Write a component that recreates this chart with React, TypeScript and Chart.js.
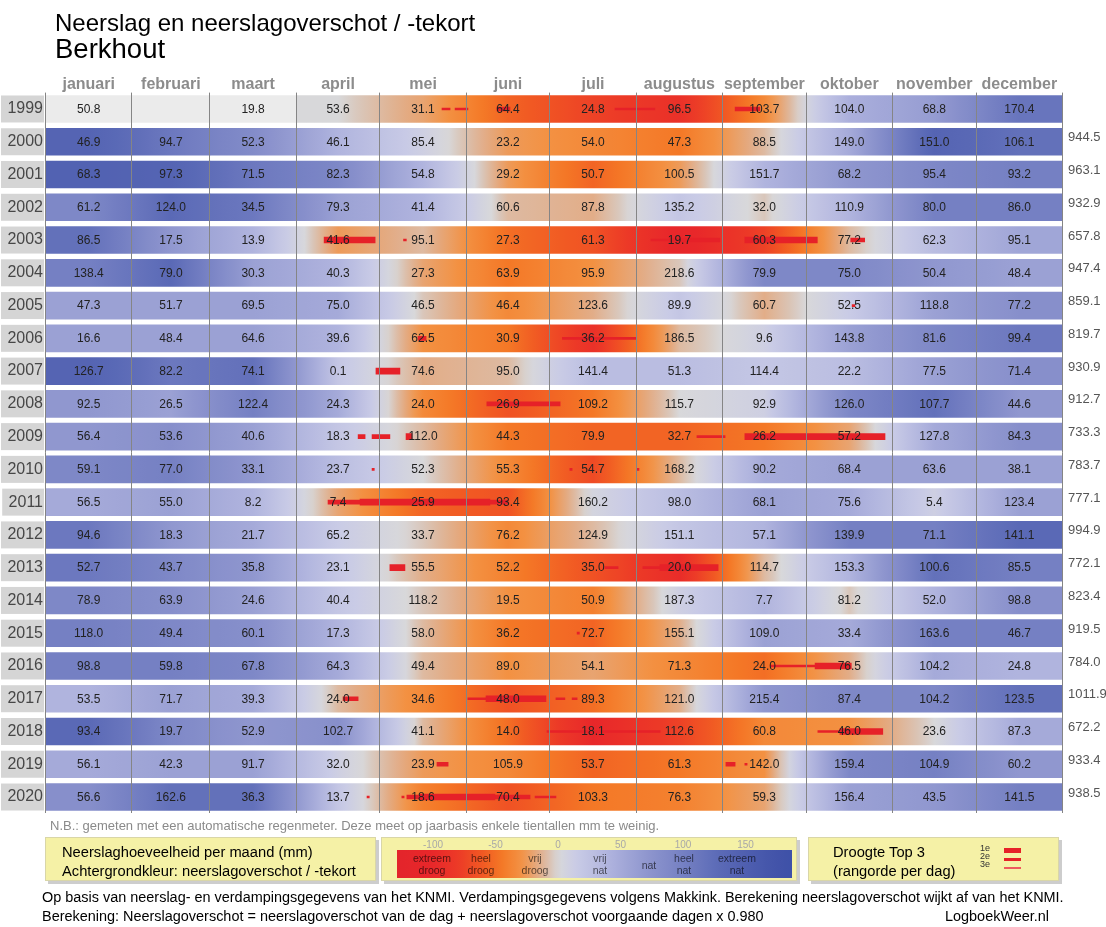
import React, { useEffect, useRef } from 'react';
import { Chart, registerables } from 'chart.js';

Chart.register(...registerables);

const FONT = '"Liberation Sans", Arial, Helvetica, sans-serif';

// ---------- data ----------
const years = ['1999', '2000', '2001', '2002', '2003', '2004', '2005', '2006', '2007', '2008', '2009',
  '2010', '2011', '2012', '2013', '2014', '2015', '2016', '2017', '2018', '2019', '2020'];

const monthNames = ['januari', 'februari', 'maart', 'april', 'mei', 'juni', 'juli', 'augustus',
  'september', 'oktober', 'november', 'december'];

const monthDays = [31, 28, 31, 30, 31, 30, 31, 31, 30, 31, 30, 31];

// precipitation per month (mm)
const monthlyRain: (number | null)[][] = [
  [50.8, null, 19.8, 53.6, 31.1, 64.4, 24.8, 96.5, 103.7, 104.0, 68.8, 170.4],
  [46.9, 94.7, 52.3, 46.1, 85.4, 23.2, 54.0, 47.3, 88.5, 149.0, 151.0, 106.1],
  [68.3, 97.3, 71.5, 82.3, 54.8, 29.2, 50.7, 100.5, 151.7, 68.2, 95.4, 93.2],
  [61.2, 124.0, 34.5, 79.3, 41.4, 60.6, 87.8, 135.2, 32.0, 110.9, 80.0, 86.0],
  [86.5, 17.5, 13.9, 41.6, 95.1, 27.3, 61.3, 19.7, 60.3, 77.2, 62.3, 95.1],
  [138.4, 79.0, 30.3, 40.3, 27.3, 63.9, 95.9, 218.6, 79.9, 75.0, 50.4, 48.4],
  [47.3, 51.7, 69.5, 75.0, 46.5, 46.4, 123.6, 89.9, 60.7, 52.5, 118.8, 77.2],
  [16.6, 48.4, 64.6, 39.6, 62.5, 30.9, 36.2, 186.5, 9.6, 143.8, 81.6, 99.4],
  [126.7, 82.2, 74.1, 0.1, 74.6, 95.0, 141.4, 51.3, 114.4, 22.2, 77.5, 71.4],
  [92.5, 26.5, 122.4, 24.3, 24.0, 26.9, 109.2, 115.7, 92.9, 126.0, 107.7, 44.6],
  [56.4, 53.6, 40.6, 18.3, 112.0, 44.3, 79.9, 32.7, 26.2, 57.2, 127.8, 84.3],
  [59.1, 77.0, 33.1, 23.7, 52.3, 55.3, 54.7, 168.2, 90.2, 68.4, 63.6, 38.1],
  [56.5, 55.0, 8.2, 7.4, 25.9, 93.4, 160.2, 98.0, 68.1, 75.6, 5.4, 123.4],
  [94.6, 18.3, 21.7, 65.2, 33.7, 76.2, 124.9, 151.1, 57.1, 139.9, 71.1, 141.1],
  [52.7, 43.7, 35.8, 23.1, 55.5, 52.2, 35.0, 20.0, 114.7, 153.3, 100.6, 85.5],
  [78.9, 63.9, 24.6, 40.4, 118.2, 19.5, 50.9, 187.3, 7.7, 81.2, 52.0, 98.8],
  [118.0, 49.4, 60.1, 17.3, 58.0, 36.2, 72.7, 155.1, 109.0, 33.4, 163.6, 46.7],
  [98.8, 59.8, 67.8, 64.3, 49.4, 89.0, 54.1, 71.3, 24.0, 76.5, 104.2, 24.8],
  [53.5, 71.7, 39.3, 24.0, 34.6, 48.0, 89.3, 121.0, 215.4, 87.4, 104.2, 123.5],
  [93.4, 19.7, 52.9, 102.7, 41.1, 14.0, 18.1, 112.6, 60.8, 46.0, 23.6, 87.3],
  [56.1, 42.3, 91.7, 32.0, 23.9, 105.9, 53.7, 61.3, 142.0, 159.4, 104.9, 60.2],
  [56.6, 162.6, 36.3, 13.7, 18.6, 70.4, 103.3, 76.3, 59.3, 156.4, 43.5, 141.5],
];

// estimated precipitation surplus (+) / deficit (-) per month (mm), drives the background colour
const monthlySurplus: (number | null)[][] = [
  [null, null, null, 0, -20, -55, -75, -90, -35, 45, 65, 115],
  [140, 110, 85, 40, 10, -25, -35, -45, -10, 50, 140, 120],
  [145, 140, 110, 90, 40, -25, -55, -25, 40, 70, 90, 100],
  [90, 130, 110, 60, 40, -10, -15, 20, -5, 40, 100, 100],
  [120, 70, 40, -25, -10, -50, -65, -105, -75, -10, 30, 55],
  [100, 130, 60, 40, -20, -45, -30, -5, 90, 90, 70, 60],
  [60, 60, 60, 50, -5, -35, -15, 20, -15, 15, 60, 80],
  [60, 60, 60, 40, -30, -45, -90, -10, 10, 60, 90, 110],
  [140, 110, 120, 20, -15, -10, 30, 30, 20, 30, 60, 80],
  [70, 60, 100, 50, -35, -65, -45, 0, 10, 90, 120, 70],
  [70, 80, 60, 20, -10, -45, -55, -55, -45, -20, 50, 80],
  [90, 100, 70, 30, 0, -35, -70, -10, 50, 60, 60, 60],
  [50, 60, 40, -20, -55, -65, 5, 30, 60, 50, 10, 60],
  [110, 70, 50, 15, -5, -35, -10, 20, 40, 100, 100, 130],
  [110, 90, 70, 20, -15, -40, -65, -95, -10, 40, 120, 100],
  [90, 80, 60, 20, -5, -30, -40, 10, 40, -5, 40, 80],
  [100, 90, 80, 40, -10, -45, -55, -15, 60, 50, 100, 100],
  [100, 100, 90, 50, -10, -30, -20, -35, -50, -15, 50, 40],
  [40, 60, 50, -10, -35, -65, -50, -15, 70, 90, 90, 120],
  [130, 90, 70, 80, -10, -50, -100, -75, -35, -30, 0, 50],
  [50, 60, 60, 10, -25, -35, -55, -45, -30, 90, 100, 70],
  [80, 120, 120, 20, -40, -65, -45, -40, -20, 60, 70, 100],
];

const yearTotals: (number | null)[] = [null, 944.5, 963.1, 932.9, 657.8, 947.4, 859.1, 819.7, 930.9,
  912.7, 733.3, 783.7, 777.1, 994.9, 772.1, 823.4, 919.5, 784.0, 1011.9, 672.2, 933.4, 938.5];

// drought top 3 periods (day of year) with rank
const droughtYears = ['1999', '1999', '1999', '1999', '1999',
  '2003', '2003', '2003', '2003', '2003', '2003', '2005', '2006', '2006', '2007', '2008',
  '2009', '2009', '2009', '2009', '2009', '2010', '2010', '2010', '2011', '2011', '2011',
  '2013', '2013', '2013', '2013', '2015', '2016', '2016', '2017', '2017', '2017', '2017', '2017',
  '2018', '2018', '2018', '2019', '2019', '2019',
  '2020', '2020', '2020', '2020', '2020', '2020'];
const droughtStart = [142.3, 147.0, 162.0, 204.4, 247.5,
  100.0, 128.5, 217.3, 224.0, 251.0, 289.0, 289.5, 133.7, 185.5, 118.6, 158.4,
  112.2, 117.2, 129.4, 233.8, 251.0, 117.2, 188.2, 212.3, 101.4, 112.9, 159.5,
  123.6, 200.8, 214.4, 220.5, 190.8, 260.3, 276.2, 106.8, 151.6, 158.1, 183.2, 189.0,
  180.0, 277.2, 285.1, 140.5, 244.2, 251.0,
  115.4, 127.9, 129.7, 134.4, 161.3, 175.7];
const droughtEnd = [145.2, 151.6, 166.7, 218.7, 256.4,
  118.3, 129.5, 224.0, 242.0, 277.0, 294.0, 290.5, 136.6, 212.0, 127.2, 184.7,
  114.7, 123.6, 131.5, 243.9, 301.3, 118.0, 189.0, 213.0, 112.9, 159.5, 166.0,
  129.0, 205.5, 220.5, 241.4, 191.6, 276.2, 289.2, 112.2, 158.1, 179.6, 186.4, 190.8,
  220.6, 285.1, 300.5, 144.5, 247.5, 251.8,
  116.2, 128.7, 134.4, 161.3, 173.9, 183.2];
const droughtRank = [3, 3, 2, 3, 2,
  1, 3, 3, 2, 1, 2, 3, 2, 3, 1, 2,
  2, 2, 1, 3, 1, 3, 3, 3, 2, 1, 2,
  1, 3, 3, 1, 3, 3, 1, 2, 3, 1, 3, 3,
  3, 3, 1, 2, 2, 3,
  3, 3, 2, 1, 2, 3];

// colour scale for surplus / deficit
const scaleValues = [-130, -100, -80, -60, -45, -30, -15, -5, 0, 15, 40, 70, 100, 130, 170, 200];
const scaleColors = ['#e3252b', '#e8272a', '#ec3a27', '#f15a23', '#f47826', '#f39142', '#e2ad88',
  '#d9c6ba', '#d8d8da', '#c9cbe6', '#b0b4de', '#9097cf', '#7580c3', '#5a69b6', '#4455aa', '#3a4ea6'];
const legendTicks = [-100, -50, 0, 50, 100, 150];

const NO_DATA = '#ebebeb';

// ---------- helpers ----------
const monthStart = monthDays.map((_, i) => monthDays.slice(0, i).reduce((a, b) => a + b, 0));
const yearDays = monthDays.reduce((a, b) => a + b, 0);
const monthCenters = monthDays.map((d, i) => monthStart[i] + d / 2);
const monthBounds = [...monthStart, yearDays];

function hexToRgb(h: string) {
  const n = parseInt(h.slice(1), 16);
  return [(n >> 16) & 255, (n >> 8) & 255, n & 255];
}
function surplusColor(v: number): string {
  if (v <= scaleValues[0]) return scaleColors[0];
  if (v >= scaleValues[scaleValues.length - 1]) return scaleColors[scaleColors.length - 1];
  for (let i = 1; i < scaleValues.length; i++) {
    if (v <= scaleValues[i]) {
      const t = (v - scaleValues[i - 1]) / (scaleValues[i] - scaleValues[i - 1]);
      const a = hexToRgb(scaleColors[i - 1]);
      const b = hexToRgb(scaleColors[i]);
      const c = a.map((x, k) => Math.round(x + (b[k] - x) * t));
      return `rgb(${c[0]},${c[1]},${c[2]})`;
    }
  }
  return scaleColors[scaleColors.length - 1];
}

function cellFill(c: any, m: number) {
  const chart = c.chart;
  if (c.type !== 'data' || !chart.chartArea || !chart.scales.x) return NO_DATA;
  const row = monthlySurplus[c.dataIndex];
  const cur = row[m];
  if (cur == null) return NO_DATA;
  const prev = m > 0 && row[m - 1] != null ? (row[m - 1] as number) : cur;
  const next = m < 11 && row[m + 1] != null ? (row[m + 1] as number) : cur;
  const xs = chart.scales.x;
  const x0 = xs.getPixelForValue(monthStart[m]);
  const x1 = xs.getPixelForValue(monthStart[m] + monthDays[m]);
  const g = chart.ctx.createLinearGradient(x0, 0, x1, 0);
  const a = (prev + cur) / 2;
  const b = (cur + next) / 2;
  for (let k = 0; k <= 10; k++) {
    const t = k / 10;
    const v = t < 0.5 ? a + (cur - a) * t * 2 : cur + (b - cur) * (t - 0.5) * 2;
    g.addColorStop(t, surplusColor(v));
  }
  return g;
}

const cellTextPlugin = {
  id: 'cellText',
  afterDatasetsDraw(chart: any) {
    const { ctx, scales } = chart;
    const xs = scales.x;
    const ys = scales.y;
    ctx.save();
    ctx.font = `12px ${FONT}`;
    ctx.fillStyle = '#222';
    ctx.textAlign = 'center';
    ctx.textBaseline = 'middle';
    monthlyRain.forEach((row, yi) => {
      row.forEach((v, m) => {
        if (v == null) return;
        ctx.fillText(v.toFixed(1), xs.getPixelForValue(monthCenters[m]), ys.getPixelForValue(yi) + 0.5);
      });
    });
    ctx.restore();
  },
};

const rankThickness = [6, 4, 2];

// ---------- small text component ----------
function Txt(props: any) {
  const { x, base, size, color = '#000', weight = 'normal', align = 'left', children } = props;
  const style: any = {
    position: 'absolute',
    top: base - 0.8465 * size,
    fontSize: size,
    lineHeight: `${size}px`,
    color,
    fontWeight: weight,
    whiteSpace: 'nowrap',
    fontFamily: FONT,
  };
  if (align === 'left') style.left = x;
  else if (align === 'center') {
    style.left = x;
    style.transform = 'translateX(-50%)';
  } else style.right = 1106 - x;
  return <div style={style}>{children}</div>;
}

const boxStyle = (left: number, width: number): any => ({
  position: 'absolute',
  left,
  top: 837,
  width,
  height: 44,
  background: '#f5f1a6',
  border: '1px solid #d9d6a8',
  boxShadow: '3px 3px 0 #cdcdcd',
  boxSizing: 'border-box',
});

const legendX = (v: number) => 558 + v * 1.25;
const legendMin = (397 - 558) / 1.25;
const legendMax = (792 - 558) / 1.25;
const legendGradient = (() => {
  const parts: string[] = [];
  for (let k = 0; k <= 60; k++) {
    const v = legendMin + ((legendMax - legendMin) * k) / 60;
    parts.push(`${surplusColor(v)} ${((k / 60) * 100).toFixed(2)}%`);
  }
  return `linear-gradient(to right, ${parts.join(', ')})`;
})();

export default function App() {
  const ref = useRef<HTMLCanvasElement>(null);

  useEffect(() => {
    const monthDatasets = monthNames.map((name, m) => ({
      type: 'bar',
      label: name,
      data: years.map(() => [monthStart[m], monthStart[m] + monthDays[m]]),
      backgroundColor: (c: any) => cellFill(c, m),
      borderWidth: 0,
      barThickness: 27,
      order: 2,
    }));
    const droughtDatasets = [1, 2, 3].map((r) => ({
      type: 'bar',
      label: `droogte ${r}e`,
      data: droughtYears
        .map((y, i) => ({ y, x: [droughtStart[i], droughtEnd[i]], r: droughtRank[i] }))
        .filter((p) => p.r === r)
        .map((p) => ({ y: p.y, x: p.x })),
      backgroundColor: '#e62128',
      borderWidth: 0,
      barThickness: rankThickness[r - 1],
      order: 1,
    }));

    const chart = new Chart(ref.current as HTMLCanvasElement, {
      type: 'bar',
      data: { labels: years, datasets: [...monthDatasets, ...droughtDatasets] as any },
      options: {
        responsive: false,
        animation: false,
        devicePixelRatio: 1,
        indexAxis: 'y',
        layout: { padding: { top: 0, bottom: 16.6, left: 0, right: 0 } },
        datasets: { bar: { grouped: false } } as any,
        plugins: { legend: { display: false }, tooltip: { enabled: false }, title: { display: false } },
        scales: {
          x: {
            type: 'linear',
            position: 'top',
            min: 0,
            max: yearDays,
            grid: { display: false, drawTicks: false },
            border: { display: false },
            afterBuildTicks: (s: any) => {
              s.ticks = monthCenters.map((v) => ({ value: v }));
            },
            ticks: {
              autoSkip: false,
              maxRotation: 0,
              padding: -2,
              color: '#8c8c8c',
              font: { family: FONT, size: 16, weight: 'bold' },
              callback: (_v: any, i: number) => monthNames[i],
            },
            afterFit: (s: any) => {
              s.height = 92.6;
            },
          },
          x2: {
            type: 'linear',
            position: 'bottom',
            min: 0,
            max: yearDays,
            grid: { color: '#858585', lineWidth: 1, drawTicks: false, z: 1 },
            border: { display: false },
            ticks: { display: false },
            afterBuildTicks: (s: any) => {
              s.ticks = monthBounds.map((v) => ({ value: v }));
            },
            afterFit: (s: any) => {
              s.height = 0;
            },
          },
          y: {
            type: 'category',
            position: 'left',
            offset: true,
            grid: { display: false, drawTicks: false },
            border: { display: false },
            ticks: {
              autoSkip: false,
              color: '#474747',
              font: { family: FONT, size: 16 },
              padding: 2.5,
              showLabelBackdrop: true,
              backdropColor: '#d5d5d5',
              backdropPadding: { top: 3.9, bottom: 3.9, left: 6.4, right: 1 },
            },
            afterFit: (s: any) => {
              s.width = 45.5;
            },
          },
          y2: {
            type: 'category',
            labels: years,
            position: 'right',
            offset: true,
            grid: { display: false, drawTicks: false },
            border: { display: false },
            ticks: {
              autoSkip: false,
              color: '#555',
              font: { family: FONT, size: 13 },
              padding: 5.5,
              labelOffset: -4,
              callback: (_v: any, i: number) => (yearTotals[i] == null ? '' : (yearTotals[i] as number).toFixed(1)),
            },
            afterFit: (s: any) => {
              s.width = 43.5;
            },
          },
        } as any,
      },
      plugins: [cellTextPlugin],
    } as any);
    return () => chart.destroy();
  }, []);

  const lg = 'rgba(0,0,0,0.62)';
  return (
    <div style={{ position: 'absolute', left: 0, top: 0, width: 1106, height: 927, background: '#fff', overflow: 'hidden', fontFamily: FONT }}>
      <canvas ref={ref} width={1106} height={830} style={{ position: 'absolute', left: 0, top: 0, width: 1106, height: 830 }} />

      <Txt x={55} base={31.5} size={24}>Neerslag en neerslagoverschot / -tekort</Txt>
      <Txt x={55} base={58.3} size={27.5}>Berkhout</Txt>

      <Txt x={50} base={830} size={13} color="#8a8a8a">
        N.B.: gemeten met een automatische regenmeter. Deze meet op jaarbasis enkele tientallen mm te weinig.
      </Txt>

      {/* legend box 1 */}
      <div style={boxStyle(45, 331)} />
      <Txt x={62} base={857} size={14.7}>Neerslaghoeveelheid per maand (mm)</Txt>
      <Txt x={62} base={876} size={14.7}>Achtergrondkleur: neerslagoverschot / -tekort</Txt>

      {/* legend box 2: colour scale */}
      <div style={boxStyle(381, 416)} />
      <div style={{ position: 'absolute', left: 397, top: 850, width: 395, height: 28, background: legendGradient }} />
      {legendTicks.map((t) => (
        <Txt key={t} x={legendX(t)} base={848.5} size={10} color="#a8a8a8" align="center">{String(t)}</Txt>
      ))}
      <Txt x={432} base={862} size={10.5} color={lg} align="center">extreem</Txt>
      <Txt x={432} base={874} size={10.5} color={lg} align="center">droog</Txt>
      <Txt x={481} base={862} size={10.5} color={lg} align="center">heel</Txt>
      <Txt x={481} base={874} size={10.5} color={lg} align="center">droog</Txt>
      <Txt x={535} base={862} size={10.5} color={lg} align="center">vrij</Txt>
      <Txt x={535} base={874} size={10.5} color={lg} align="center">droog</Txt>
      <Txt x={600} base={862} size={10.5} color={lg} align="center">vrij</Txt>
      <Txt x={600} base={874} size={10.5} color={lg} align="center">nat</Txt>
      <Txt x={649} base={869} size={10.5} color={lg} align="center">nat</Txt>
      <Txt x={684} base={862} size={10.5} color={lg} align="center">heel</Txt>
      <Txt x={684} base={874} size={10.5} color={lg} align="center">nat</Txt>
      <Txt x={737} base={862} size={10.5} color={lg} align="center">extreem</Txt>
      <Txt x={737} base={874} size={10.5} color={lg} align="center">nat</Txt>

      {/* legend box 3: drought */}
      <div style={boxStyle(808, 251)} />
      <Txt x={833} base={857} size={14.7}>Droogte Top 3</Txt>
      <Txt x={833} base={876} size={14.7}>(rangorde per dag)</Txt>
      <Txt x={985} base={852} size={9} color="#333" align="center">1e</Txt>
      <Txt x={985} base={860} size={9} color="#333" align="center">2e</Txt>
      <Txt x={985} base={868} size={9} color="#333" align="center">3e</Txt>
      <div style={{ position: 'absolute', left: 1004, top: 848, width: 17, height: 5, background: '#e62128' }} />
      <div style={{ position: 'absolute', left: 1004, top: 858, width: 17, height: 3, background: '#e62128' }} />
      <div style={{ position: 'absolute', left: 1004, top: 867, width: 17, height: 1.5, background: '#ee5a5e' }} />

      <Txt x={42} base={902} size={14.45}>
        Op basis van neerslag- en verdampingsgegevens van het KNMI. Verdampingsgegevens volgens Makkink. Berekening neerslagoverschot wijkt af van het KNMI.
      </Txt>
      <Txt x={42} base={921} size={14.45}>
        Berekening: Neerslagoverschot = neerslagoverschot van de dag + neerslagoverschot voorgaande dagen x 0.980
      </Txt>
      <Txt x={945} base={921} size={14.45}>LogboekWeer.nl</Txt>
    </div>
  );
}
